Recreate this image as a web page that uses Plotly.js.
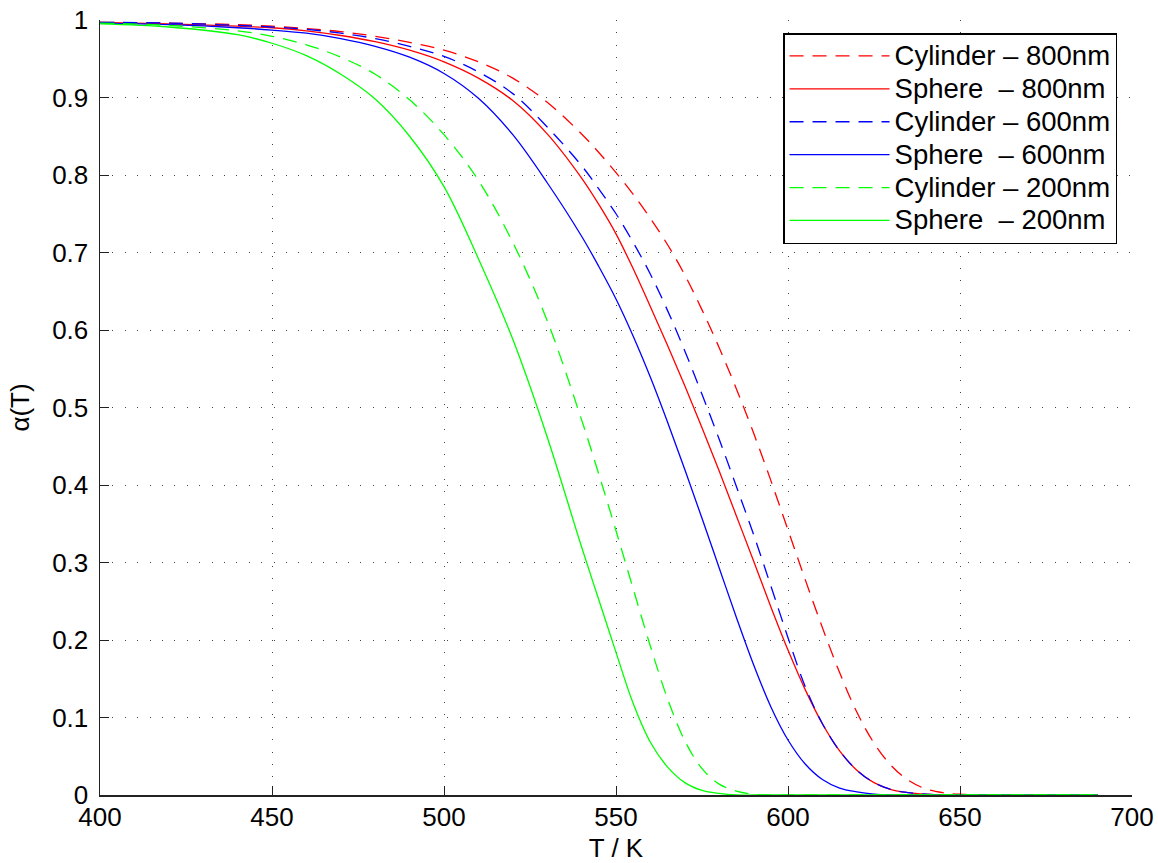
<!DOCTYPE html>
<html>
<head>
<meta charset="utf-8">
<script src="https://cdn.plot.ly/plotly-3.0.1.min.js"></script>
<style>html,body{margin:0;padding:0;background:#fff;}#chart{width:1158px;height:863px;}</style>
</head>
<body>
<div id="chart"></div>
<script>
var temperature = [400,420,440,450,460,470,480,490,500,510,520,530,540,545,550,555,560,565,570,575,580,585,590,595,600,605,610,615,620,625,630,635,640,645,650,660,690];

var cylinder800 = [0.997,0.996,0.994,0.992,0.989,0.985,0.979,0.971,0.961,0.946,0.925,0.894,0.853,0.829,0.803,0.775,0.744,0.710,0.671,0.626,0.577,0.524,0.467,0.406,0.342,0.278,0.216,0.158,0.107,0.067,0.038,0.019,0.008,0.003,0.001,0,0];
var sphere800   = [0.997,0.995,0.992,0.990,0.986,0.980,0.972,0.961,0.946,0.925,0.896,0.853,0.796,0.762,0.724,0.679,0.630,0.580,0.528,0.474,0.418,0.360,0.302,0.243,0.187,0.136,0.092,0.057,0.032,0.016,0.007,0.003,0.001,0,0,0,0];
var cylinder600 = [0.997,0.996,0.993,0.991,0.988,0.983,0.976,0.966,0.953,0.933,0.905,0.862,0.812,0.782,0.750,0.713,0.672,0.625,0.573,0.517,0.459,0.398,0.336,0.270,0.203,0.140,0.092,0.057,0.032,0.016,0.007,0.003,0.001,0,0,0,0];
var sphere600   = [0.996,0.994,0.990,0.987,0.983,0.976,0.966,0.952,0.931,0.899,0.852,0.790,0.721,0.682,0.640,0.592,0.539,0.481,0.420,0.357,0.293,0.229,0.168,0.114,0.071,0.040,0.020,0.009,0.004,0.001,0,0,0,0,0,0,0];
var cylinder200 = [0.996,0.993,0.986,0.979,0.968,0.952,0.930,0.897,0.852,0.793,0.713,0.612,0.484,0.414,0.341,0.266,0.192,0.124,0.070,0.034,0.014,0.005,0.001,0,0,0,0,0,0,0,0,0,0,0,0,0,0];
var sphere200   = [0.995,0.991,0.981,0.970,0.954,0.930,0.898,0.850,0.785,0.692,0.588,0.462,0.320,0.252,0.184,0.118,0.068,0.036,0.016,0.006,0.002,0,0,0,0,0,0,0,0,0,0,0,0,0,0,0,0];

var seriesNames = ['Cylinder \u2013 800nm','Sphere\u00a0 \u2013 800nm','Cylinder \u2013 600nm','Sphere\u00a0 \u2013 600nm','Cylinder \u2013 200nm','Sphere\u00a0 \u2013 200nm'];
var seriesValues = [cylinder800, sphere800, cylinder600, sphere600, cylinder200, sphere200];
var seriesColors = ['#ff0000','#ff0000','#0000ff','#0000ff','#00ff00','#00ff00'];
var seriesDash = ['14px,9px','solid','14px,9px','solid','14px,9px','solid'];

var xTicks = [400,450,500,550,600,650,700];
var yTicks = [0,0.1,0.2,0.3,0.4,0.5,0.6,0.7,0.8,0.9,1];
var yTickText = ['0','0.1','0.2','0.3','0.4','0.5','0.6','0.7','0.8','0.9','1'];

var FONT = 'Liberation Sans, Arial, Helvetica, sans-serif';

var traces = seriesNames.map(function(n,i){
  return {
    x: temperature, y: seriesValues[i], type: 'scatter', mode: 'lines',
    name: '<span style="font-size:27.5px">' + n + '</span>',
    line: {color: seriesColors[i], width: 1.3, dash: seriesDash[i], shape: 'spline', smoothing: 1}
  };
});

var axisCommon = {
  ticks: 'inside', ticklen: 9, tickwidth: 1, tickcolor: '#222',
  showline: true, linecolor: '#222', linewidth: 1.5, mirror: false,
  showgrid: true, gridcolor: '#444', gridwidth: 1, griddash: '1px,11.4px',
  zeroline: false, tickfont: {family: FONT, size: 26, color: '#000'},
  automargin: false
};

var layout = {
  width: 1158, height: 863,
  margin: {l: 100, r: 26, t: 20, b: 68},
  paper_bgcolor: '#fff', plot_bgcolor: '#fff',
  font: {family: FONT, size: 26, color: '#000'},
  showlegend: true,
  xaxis: Object.assign({}, axisCommon, {
    range: [400,700], tickmode: 'array', tickvals: xTicks, ticktext: xTicks.map(String),
    ticklabelstandoff: -2,
    title: {text: 'T / K', font: {family: FONT, size: 26, color: '#000'}, standoff: 14}
  }),
  yaxis: Object.assign({}, axisCommon, {
    range: [0,1], tickmode: 'array', tickvals: yTicks, ticktext: yTickText,
    ticklabelstandoff: 5,
    title: {text: '\u03b1(T)', font: {family: FONT, size: 26, color: '#000'}, standoff: 15}
  }),
  legend: {
    x: 0.9855, xanchor: 'right', y: 0.9832, yanchor: 'top',
    bgcolor: '#fff', bordercolor: '#000', borderwidth: 1.5,
    font: {family: FONT, size: 23, color: '#000'},
    itemwidth: 100, tracegroupgap: 0
  }
};

Plotly.newPlot('chart', traces, layout, {displayModeBar: false, staticPlot: true});
</script>
</body>
</html>
